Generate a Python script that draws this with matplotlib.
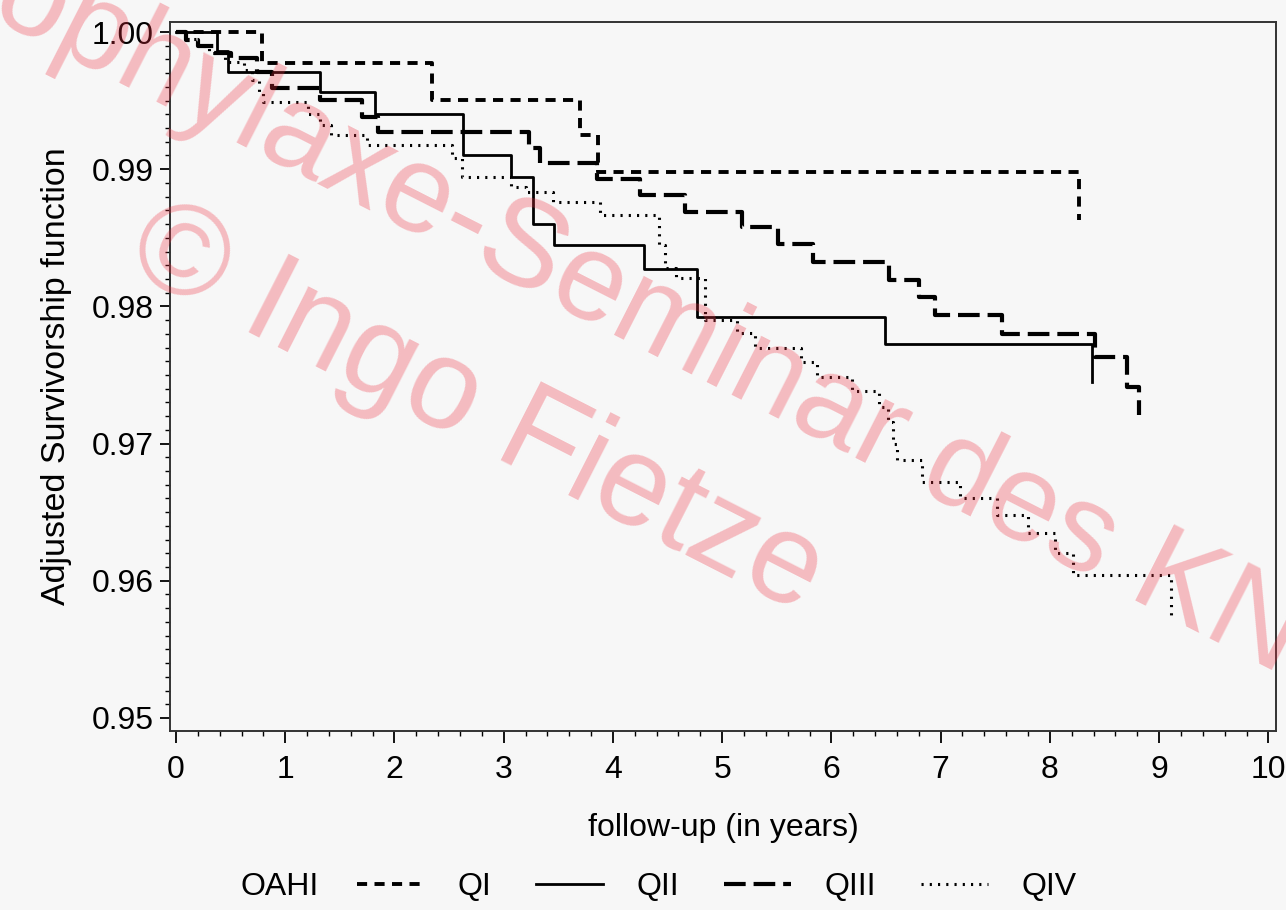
import matplotlib
matplotlib.use("Agg")
import matplotlib.pyplot as plt
from matplotlib.ticker import MultipleLocator, FormatStrFormatter

plt.rcParams['font.family'] = ['Liberation Sans', 'DejaVu Sans']
plt.rcParams['font.size'] = 23

# OAHI quartiles: event times (years) and adjusted survival after each step
qi_t = [0, 0.785, 2.34, 3.70, 3.865, 8.27]
qi_s = [1.0, 0.99772, 0.99504, 0.99249, 0.98982, 0.98630]

qii_t = [0, 0.373, 0.475, 1.32, 1.82, 2.63, 3.07, 3.27, 3.46, 4.28, 4.77, 6.49, 8.39]
qii_s = [1.0, 0.9986, 0.99711, 0.99565, 0.9940, 0.99104, 0.98945, 0.98601,
         0.98448, 0.98270, 0.97920, 0.97726, 0.97451]

qiii_t = [0, 0.09, 0.2, 0.35, 0.5, 0.74, 0.876, 1.32, 1.70, 1.85, 3.23, 3.33,
          3.85, 4.25, 4.66, 5.18, 5.51, 5.83, 6.53, 6.80, 6.95, 7.56, 8.41, 8.71, 8.82]
qiii_s = [1.0, 0.9994, 0.9990, 0.9985, 0.9981, 0.99711, 0.99592, 0.99504, 0.99383,
          0.99273, 0.99158, 0.99045, 0.98930, 0.98810, 0.98690, 0.98576, 0.98455,
          0.98326, 0.98192, 0.98071, 0.97937, 0.97799, 0.97629, 0.97415, 0.97208]

qiv_t = [0, 0.08, 0.2, 0.3, 0.45, 0.62, 0.70, 0.76, 0.80, 1.21, 1.32, 1.42, 1.75,
         2.53, 2.62, 3.07, 3.2, 3.45, 3.88, 4.42, 4.48, 4.58, 4.84, 5.14, 5.30,
         5.72, 5.87, 6.19, 6.44, 6.52, 6.56, 6.60, 6.83, 7.18, 7.52, 7.80, 8.05,
         8.21, 9.11]
qiv_s = [1.0, 0.9995, 0.9990, 0.9985, 0.99784, 0.9972, 0.9965, 0.99565, 0.99492,
         0.9940, 0.9932, 0.99249, 0.99176, 0.9908, 0.98945, 0.98872, 0.98836,
         0.98763, 0.98666, 0.9845, 0.98278, 0.98205, 0.9790, 0.97804, 0.97695,
         0.97597, 0.97488, 0.97386, 0.97265, 0.9716, 0.9700, 0.9688, 0.96722,
         0.96601, 0.9648, 0.96346, 0.962, 0.96042, 0.95738]

labels = ['QI', 'QII', 'QIII', 'QIV']
bg = '#f7f7f7'

fig = plt.figure(figsize=(12.86, 9.10), dpi=100, facecolor=bg)
ax = fig.add_axes([170/1286, 1-731/910, (1276-170)/1286, (731-22)/910])
ax.set_facecolor(bg)

l1, = ax.step(qi_t, qi_s, where='post', color='black', lw=2.8, ls=(0, (2.6, 1.9)))
l2, = ax.step(qii_t, qii_s, where='post', color='black', lw=2.0, ls='-')
l3, = ax.step(qiii_t, qiii_s, where='post', color='black', lw=3.0, ls=(0, (5.2, 1.9)))
l4, = ax.step(qiv_t, qiv_s, where='post', color='black', lw=2.2, ls=(0, (0.7, 2.0)))

ax.set_xlim(-0.055, 10.07)
ax.set_ylim(0.94905, 1.00073)
ax.xaxis.set_major_locator(MultipleLocator(1))
ax.xaxis.set_minor_locator(MultipleLocator(0.2))
ax.yaxis.set_major_locator(MultipleLocator(0.01))
ax.yaxis.set_minor_locator(MultipleLocator(0.001))
ax.yaxis.set_major_formatter(FormatStrFormatter('%.2f'))
ax.tick_params(which='major', length=7, width=1.3, pad=5)
ax.tick_params(which='minor', length=3.5, width=1.0)
ax.tick_params(axis='x', which='major', length=8.5, pad=9)
for sp in ax.spines.values():
    sp.set_linewidth(1.4)
    sp.set_color('#333333')

ax.set_xlabel('follow-up (in years)', labelpad=20)
ax.set_ylabel('Adjusted Survivorship function', labelpad=14, fontsize=24.5)

fig.text(280/1286, 1-887/910, 'OAHI', ha='center', va='center')
fig.legend([l1, l2, l3, l4], labels, loc='center', ncol=4,
           bbox_to_anchor=(717/1286, 1-887/910), frameon=False,
           handlelength=2.1, handletextpad=1.05, columnspacing=1.4,
           borderpad=0, borderaxespad=0)

# watermark
wm = dict(color='#f03040', alpha=0.3, fontsize=90, rotation=-27,
          rotation_mode='anchor', ha='left', va='baseline', zorder=10)
fig.text(-124/1286, 1+41/910, 'Prophylaxe-Seminar des KNM', **wm)
fig.text(122/1286, 1-268/910, '\u00a9 Ingo Fietze', fontsize=92,
         **{k: v for k, v in wm.items() if k != 'fontsize'})

fig.savefig('out.png', dpi=100, facecolor=bg)
